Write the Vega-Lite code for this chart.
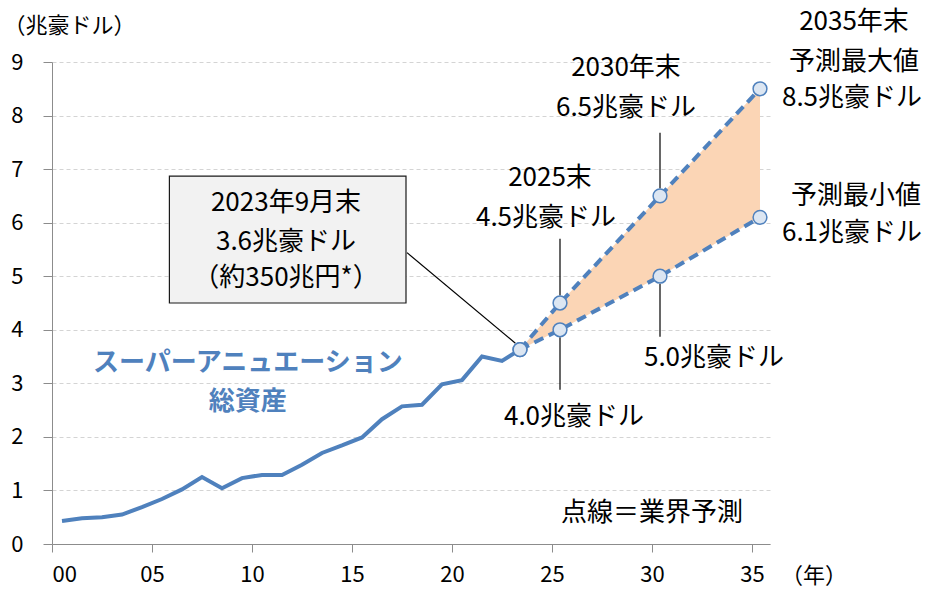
{
  "$schema": "https://vega.github.io/schema/vega-lite/v6.json",
  "width": 718,
  "height": 482,
  "autosize": {"type": "none"},
  "padding": {"left": 52, "top": 62, "right": 161, "bottom": 45},
  "background": "white",
  "config": {
    "view": {"stroke": null},
    "font": "Noto Sans CJK JP",
    "text": {"font": "Noto Sans CJK JP"}
  },
  "datasets": {
    "hist": [
      {"t": 0.5, "v": 0.43}, {"t": 1.5, "v": 0.48}, {"t": 2.5, "v": 0.5}, {"t": 3.5, "v": 0.55},
      {"t": 4.5, "v": 0.69}, {"t": 5.5, "v": 0.84}, {"t": 6.5, "v": 1.02}, {"t": 7.5, "v": 1.25},
      {"t": 8.5, "v": 1.04}, {"t": 9.5, "v": 1.23}, {"t": 10.5, "v": 1.29}, {"t": 11.5, "v": 1.29},
      {"t": 12.5, "v": 1.48}, {"t": 13.5, "v": 1.7}, {"t": 14.5, "v": 1.84}, {"t": 15.5, "v": 1.99},
      {"t": 16.5, "v": 2.33}, {"t": 17.5, "v": 2.57}, {"t": 18.5, "v": 2.6}, {"t": 19.5, "v": 2.98},
      {"t": 20.5, "v": 3.06}, {"t": 21.5, "v": 3.5}, {"t": 22.5, "v": 3.42}, {"t": 23.4, "v": 3.63}
    ],
    "fc": [
      {"t": 23.4, "lo": 3.63, "hi": 3.63},
      {"t": 25.4, "lo": 4.0, "hi": 4.5},
      {"t": 30.4, "lo": 5.0, "hi": 6.5},
      {"t": 35.4, "lo": 6.1, "hi": 8.5}
    ],
    "leaders": [
      {"x": 17.75, "y": 5.44, "x2": 23.17, "y2": 3.75},
      {"x": 25.4, "y": 5.7, "x2": 25.4, "y2": 4.64},
      {"x": 30.4, "y": 7.68, "x2": 30.4, "y2": 6.64},
      {"x": 30.4, "y": 4.86, "x2": 30.4, "y2": 3.87},
      {"x": 25.4, "y": 3.86, "x2": 25.4, "y2": 2.88}
    ],
    "box": [{"x": 5.87, "x2": 17.7, "y": 6.87, "y2": 4.5}],
    "labels": [
      {"x": 11.7, "y": 6.37, "text": "2023年9月末"},
      {"x": 11.7, "y": 5.64, "text": "3.6兆豪ドル"},
      {"x": 11.7, "y": 4.97, "text": "（約350兆円*）"},
      {"x": 24.9, "y": 6.84, "text": "2025末"},
      {"x": 24.7, "y": 6.09, "text": "4.5兆豪ドル"},
      {"x": 28.7, "y": 8.89, "text": "2030年末"},
      {"x": 28.7, "y": 8.14, "text": "6.5兆豪ドル"},
      {"x": 40.1, "y": 9.75, "text": "2035年末"},
      {"x": 40.1, "y": 9.0, "text": "予測最大値"},
      {"x": 40.0, "y": 8.33, "text": "8.5兆豪ドル"},
      {"x": 40.2, "y": 6.49, "text": "予測最小値"},
      {"x": 40.0, "y": 5.8, "text": "6.1兆豪ドル"},
      {"x": 33.1, "y": 3.48, "text": "5.0兆豪ドル"},
      {"x": 26.1, "y": 2.38, "text": "4.0兆豪ドル"},
      {"x": 30.0, "y": 0.58, "text": "点線＝業界予測"}
    ],
    "units": [
      {"x": 38.1, "y": -0.6, "text": "（年）"}
    ],
    "blue": [
      {"x": 9.79, "y": 3.38, "text": "スーパーアニュエーション"},
      {"x": 9.79, "y": 2.66, "text": "総資産"}
    ]
  },
  "encoding": {
    "x": {
      "type": "quantitative",
      "scale": {"domain": [0, 35.9], "nice": false, "zero": false},
      "axis": {
        "values": [0, 5, 10, 15, 20, 25, 30, 35],
        "labelExpr": "datum.value < 10 ? '0' + datum.value : '' + datum.value",
        "grid": false,
        "domainColor": "#8c8c8c",
        "tickColor": "#8c8c8c",
        "tickSize": 8,
        "labelFontSize": 22,
        "labelColor": "#000000",
        "labelPadding": 12,
        "labelFont": "Noto Sans CJK JP",
        "title": null
      }
    },
    "y": {
      "type": "quantitative",
      "scale": {"domain": [0, 9], "nice": false},
      "axis": {
        "values": [0, 1, 2, 3, 4, 5, 6, 7, 8, 9],
        "grid": true,
        "gridColor": "#d4d4d4",
        "gridDash": [4, 3],
        "gridWidth": 1,
        "domainColor": "#8c8c8c",
        "tickColor": "#8c8c8c",
        "tickSize": 9,
        "labelFontSize": 22,
        "labelColor": "#000000",
        "labelPadding": 20,
        "labelFont": "Noto Sans CJK JP",
        "title": "（兆豪ドル）",
        "titleFontSize": 22,
        "titleFontWeight": "normal",
        "titleColor": "#000000",
        "titleAngle": 0,
        "titleAlign": "left",
        "titleBaseline": "middle",
        "titleLimit": 300,
        "titleX": -49,
        "titleY": -37,
        "titleFont": "Noto Sans CJK JP"
      }
    }
  },
  "layer": [
    {
      "data": {"name": "fc"},
      "mark": {"type": "area", "color": "#FBD5B5", "opacity": 1},
      "encoding": {"x": {"field": "t"}, "y": {"field": "lo"}, "y2": {"field": "hi"}}
    },
    {
      "data": {"name": "hist"},
      "mark": {"type": "line", "color": "#4F81BD", "strokeWidth": 4, "strokeJoin": "miter"},
      "encoding": {"x": {"field": "t"}, "y": {"field": "v"}}
    },
    {
      "data": {"name": "fc"},
      "transform": [{"fold": ["lo", "hi"], "as": ["series", "val"]}],
      "mark": {"type": "line", "color": "#4F81BD", "strokeWidth": 4, "strokeDash": [10, 6]},
      "encoding": {"x": {"field": "t"}, "y": {"field": "val"}, "detail": {"field": "series"}}
    },
    {
      "data": {"name": "leaders"},
      "mark": {"type": "rule", "color": "#000000", "strokeWidth": 1.2},
      "encoding": {"x": {"field": "x"}, "y": {"field": "y"}, "x2": {"field": "x2"}, "y2": {"field": "y2"}}
    },
    {
      "data": {"name": "fc"},
      "transform": [{"fold": ["lo", "hi"], "as": ["series", "val"]}],
      "mark": {"type": "point", "shape": "circle", "filled": true, "fill": "#DCE6F2", "stroke": "#4F81BD", "strokeWidth": 1.5, "size": 190, "opacity": 1},
      "encoding": {"x": {"field": "t"}, "y": {"field": "val"}}
    },
    {
      "data": {"name": "box"},
      "mark": {"type": "rect", "fill": "#F2F2F2", "stroke": "#1a1a1a", "strokeWidth": 1.2},
      "encoding": {"x": {"field": "x"}, "x2": {"field": "x2"}, "y": {"field": "y"}, "y2": {"field": "y2"}}
    },
    {
      "data": {"name": "labels"},
      "mark": {"type": "text", "fontSize": 26, "color": "#000000", "align": "center", "baseline": "middle"},
      "encoding": {"x": {"field": "x"}, "y": {"field": "y"}, "text": {"field": "text"}}
    },
    {
      "data": {"name": "units"},
      "mark": {"type": "text", "fontSize": 22, "color": "#000000", "align": "center", "baseline": "middle"},
      "encoding": {"x": {"field": "x"}, "y": {"field": "y"}, "text": {"field": "text"}}
    },
    {
      "data": {"name": "blue"},
      "mark": {"type": "text", "fontSize": 26, "fontWeight": "bold", "color": "#4F81BD", "align": "center", "baseline": "middle"},
      "encoding": {"x": {"field": "x"}, "y": {"field": "y"}, "text": {"field": "text"}}
    }
  ]
}
